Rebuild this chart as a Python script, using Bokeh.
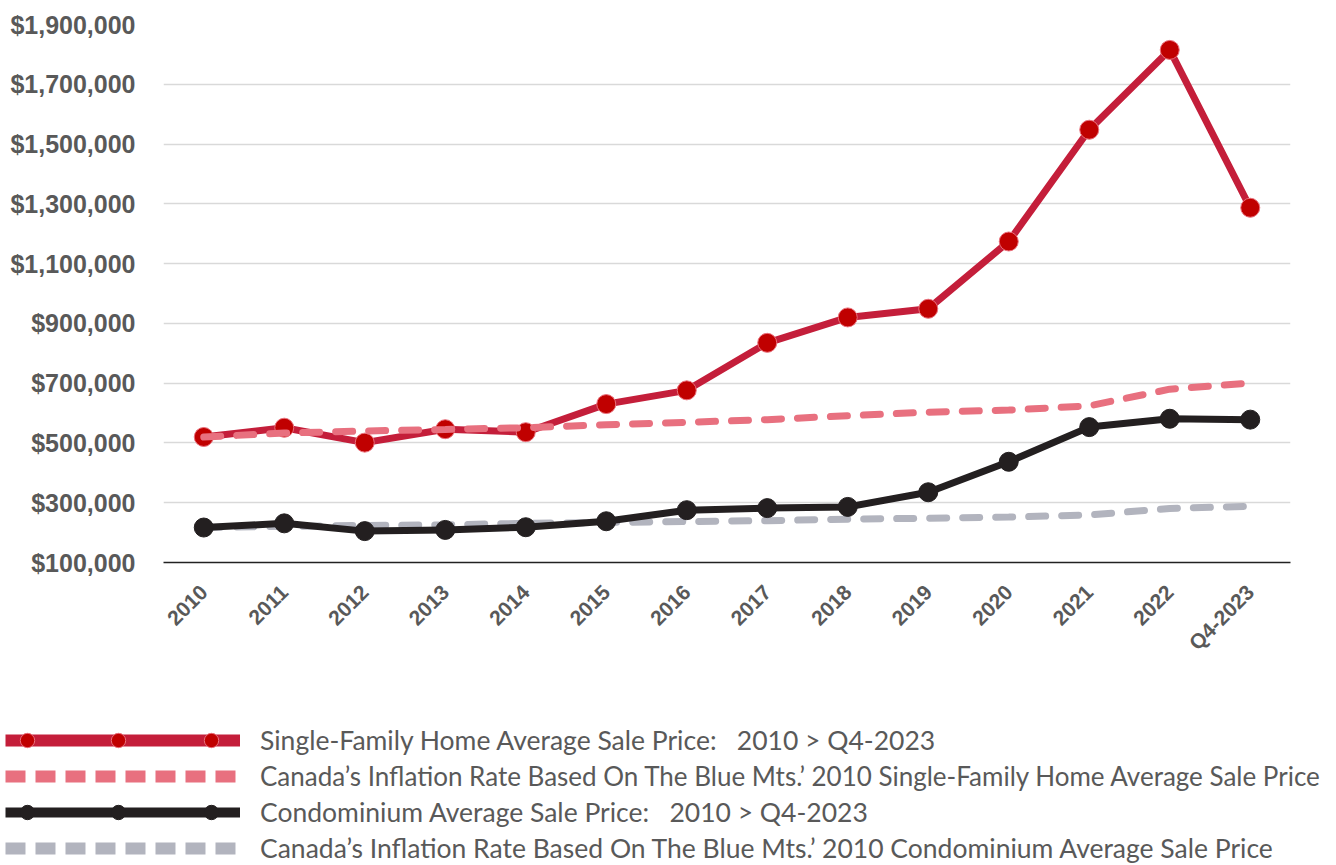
from bokeh.plotting import figure
from bokeh.models import (Range1d, FactorRange, Legend, LegendItem, NumeralTickFormatter,
                          FixedTicker, ColumnDataSource)
from bokeh.embed import file_html
from bokeh.resources import INLINE
import math

categories = ["2010", "2011", "2012", "2013", "2014", "2015", "2016", "2017",
              "2018", "2019", "2020", "2021", "2022", "Q4-2023"]
single_family = [520000, 551000, 501000, 546000, 536000, 630000, 676000, 835000,
                 920000, 949000, 1174000, 1548000, 1815000, 1287000]
single_family_inflation = [520000, 533000, 540000, 545000, 551000, 561000, 569000, 578000,
                           591000, 603000, 610000, 624000, 680000, 700000]
condo = [217000, 231000, 205000, 209000, 218000, 238000, 275000, 282000,
         286000, 335000, 437000, 553000, 581000, 578000]
condo_inflation = [217000, 221000, 224000, 226000, 231000, 234000, 237000, 240000,
                   245000, 248000, 252000, 259000, 281000, 288000]
y_ticks = [100000, 300000, 500000, 700000, 900000, 1100000, 1300000, 1500000, 1700000, 1900000]
legend_labels = [
    "Single-Family Home Average Sale Price:\u00a0\u00a0 2010 > Q4-2023",
    "Canada\u2019s Inflation Rate Based On The Blue Mts.\u2019 2010 Single-Family Home Average Sale Price",
    "Condominium Average Sale Price:\u00a0\u00a0 2010 > Q4-2023",
    "Canada\u2019s Inflation Rate Based On The Blue Mts.\u2019 2010 Condominium Average Sale Price",
]

RED = "#C41E3A"
RED_MARK = "#C00000"
PINK = "#E8707F"
BLACK = "#231F20"
GRAY = "#B2B4BE"
TEXT = "#595959"

source = ColumnDataSource(dict(year=categories, sf=single_family, sfi=single_family_inflation,
                               co=condo, coi=condo_inflation))

p = figure(width=1320, height=700,
           x_range=FactorRange(factors=categories, range_padding=0),
           y_range=Range1d(100000, 1900000),
           output_backend="svg", toolbar_location=None,
           min_border_left=163, min_border_right=30, min_border_top=24, min_border_bottom=138)
p.outline_line_color = None
p.background_fill_color = "white"
p.border_fill_color = "white"

p.xgrid.grid_line_color = None
p.ygrid.ticker = FixedTicker(ticks=y_ticks)
p.ygrid.grid_line_color = "#D9D9D9"
p.ygrid.grid_line_width = 1.5

p.yaxis.ticker = FixedTicker(ticks=y_ticks)
p.yaxis.formatter = NumeralTickFormatter(format="$0,0")
p.yaxis.axis_line_color = None
p.yaxis.major_tick_line_color = None
p.yaxis.minor_tick_line_color = None
p.yaxis.major_label_text_font = "Liberation Sans"
p.yaxis.major_label_text_font_style = "bold"
p.yaxis.major_label_text_font_size = "25px"
p.yaxis.major_label_text_color = TEXT
p.yaxis.major_label_standoff = 22

p.xaxis.axis_line_color = "#222222"
p.xaxis.axis_line_width = 1.5
p.xaxis.major_tick_line_color = None
p.xaxis.minor_tick_line_color = None
p.xaxis.major_label_orientation = math.pi / 4
p.xaxis.major_label_text_font = "Liberation Sans"
p.xaxis.major_label_text_font_style = "bold"
p.xaxis.major_label_text_font_size = "21px"
p.xaxis.major_label_text_color = TEXT
p.xaxis.major_label_standoff = 20

# plotted series
p.line("year", "coi", source=source, line_color=GRAY, line_width=7, line_dash="17 16", line_cap="round")
p.line("year", "co", source=source, line_color=BLACK, line_width=7, line_join="round")
p.scatter("year", "co", source=source, size=19, fill_color=BLACK, line_color=BLACK)
p.line("year", "sf", source=source, line_color=RED, line_width=7, line_join="round")
p.scatter("year", "sf", source=source, size=19, fill_color=RED_MARK, line_color="#E9707C", line_width=1)
p.line("year", "sfi", source=source, line_color=PINK, line_width=7, line_dash="17 16", line_cap="round")

# legend panel: a second, independent figure whose frame is the whole canvas
lg = figure(width=1320, height=165,
            x_range=FactorRange(factors=categories, range_padding=0),
            y_range=Range1d(0, 2000000),
            output_backend="svg", toolbar_location=None,
            min_border=0, x_axis_type=None, y_axis_type=None)
lg.outline_line_color = None
lg.xgrid.grid_line_color = None
lg.ygrid.grid_line_color = None
lg.background_fill_color = "white"
lg.border_fill_color = "white"

l_sf = lg.line("year", "sf", source=source, line_color=RED, line_width=12, visible=False)
l_sfi = lg.line("year", "sfi", source=source, line_color=PINK, line_width=12, line_dash="20 10", visible=False)
l_co = lg.line("year", "co", source=source, line_color=BLACK, line_width=10, visible=False)
l_coi = lg.line("year", "coi", source=source, line_color=GRAY, line_width=12, line_dash="20 10", visible=False)
m_sf = lg.scatter("year", "sf", source=source, size=21, fill_color=RED_MARK, line_color="#E9707C", visible=False)
m_co = lg.scatter("year", "co", source=source, size=21, fill_color=BLACK, line_color=BLACK, visible=False)

row_renderers = [l_sf, l_sfi, l_co, l_coi]
row_font_sizes = ["26.5px", "26px", "26.5px", "26.5px"]
row_bottoms = [107, 71, 35, -1]
for label, rend, fs, vy in zip(legend_labels, row_renderers, row_font_sizes, row_bottoms):
    row_legend = Legend(items=[LegendItem(label=label, renderers=[rend])],
                        location=(5, vy), orientation="vertical",
                        glyph_width=235, glyph_height=36, label_height=36, spacing=0,
                        padding=0, margin=0, label_standoff=20,
                        label_text_font="Lato", label_text_font_size=fs,
                        label_text_color=TEXT, label_text_baseline="middle",
                        border_line_alpha=0, background_fill_alpha=0)
    lg.add_layout(row_legend)

for vx in (7, 98, 191):
    ml = Legend(items=[LegendItem(label=" ", renderers=[m_sf]),
                       LegendItem(label=" ", renderers=[m_co])],
                location=(vx, 35), orientation="vertical",
                glyph_width=40, glyph_height=36, label_height=36, spacing=36,
                padding=0, margin=0, label_standoff=0, label_width=0,
                label_text_alpha=0, label_text_font_size="1px",
                border_line_alpha=0, background_fill_alpha=0)
    lg.add_layout(ml)

open("out.html", "w").write(file_html([p, lg], INLINE))
